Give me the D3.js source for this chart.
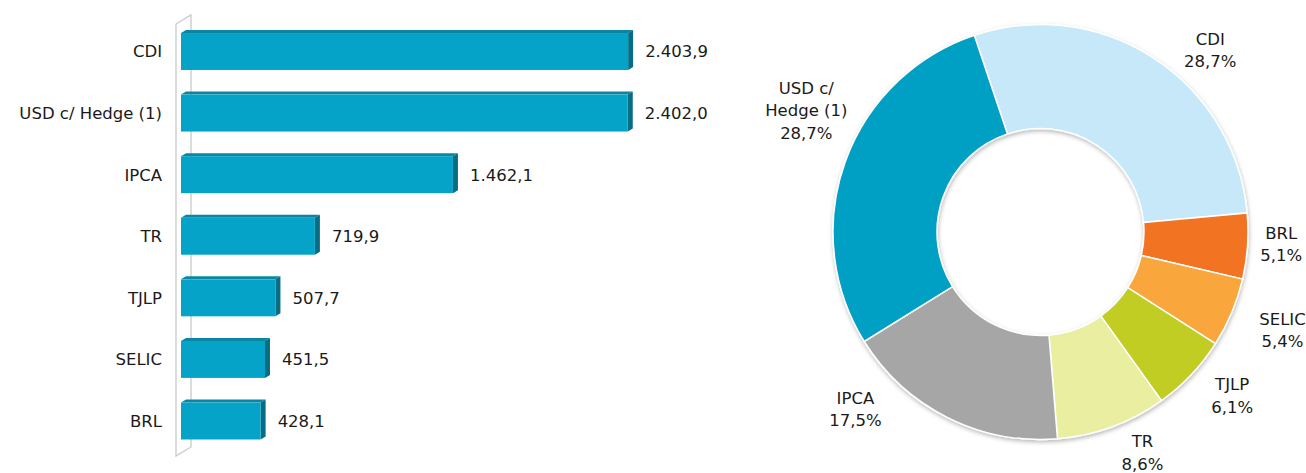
<!DOCTYPE html>
<html>
<head>
<meta charset="utf-8">
<script src="https://cdn.jsdelivr.net/npm/d3@7"></script>
<style>
	html, body { margin: 0; padding: 0; background: #fff; }
	text { font-family: "DejaVu Sans", sans-serif; font-size: 16.5px; fill: #1a1a1a; }
</style>
</head>
<body>
<div id="chart"></div>
<script>
'use strict';

// data
var categories = ['CDI', 'USD c/ Hedge (1)', 'IPCA', 'TR', 'TJLP', 'SELIC', 'BRL'];
var values = [2403.9, 2402.0, 1462.1, 719.9, 507.7, 451.5, 428.1];

// donut order (clockwise from the top) and its labels
var pieOrder = ['CDI', 'BRL', 'SELIC', 'TJLP', 'TR', 'IPCA', 'USD c/ Hedge (1)'];
var pieLabels = {
	'CDI': ['CDI'],
	'BRL': ['BRL'],
	'SELIC': ['SELIC'],
	'TJLP': ['TJLP'],
	'TR': ['TR'],
	'IPCA': ['IPCA'],
	'USD c/ Hedge (1)': ['USD c/', 'Hedge (1)']
};
var pieColors = {
	'CDI': '#c6e8f8',
	'BRL': '#f27321',
	'SELIC': '#f9a63e',
	'TJLP': '#c1cd24',
	'TR': '#e9eea1',
	'IPCA': '#a6a6a6',
	'USD c/ Hedge (1)': '#04a0c4'
};

var W = 1306, H = 473;

var fmtNum = function (v)	{
	var s = d3.format(',.1f')(v);
	return s.replace(/,/g, '#').replace('.', ',').replace(/#/g, '.');
};

var svg = d3.select('#chart').append('svg')
	.attr('width', W)
	.attr('height', H);

/* ---------- bar chart ---------- */

var y = d3.scaleBand()
	.domain(categories)
	.range([20.7, 451.8])
	.paddingInner(0.4)
	.paddingOuter(0.2);

var x = d3.scaleLinear()
	.domain([0, 2500])
	.range([181, 646]);

// 3d wall behind the bars
var wall = svg.append('g').attr('class', 'wall');
var wx0 = 176, wx1 = 191, wTop = 24, wBot = 456, wd = 9;
wall.append('path')
	.attr('d', 'M' + wx0 + ',' + wBot + 'L' + wx0 + ',' + wTop + 'L' + wx1 + ',' + (wTop - wd) +
		'L' + wx1 + ',' + (wBot - wd) + 'Z')
	.attr('fill', '#fff')
	.attr('stroke', '#c9c9c9')
	.attr('stroke-width', 1.3);

var dx = 5, dy = 3;
var bars = svg.append('g').attr('class', 'bars')
	.selectAll('g')
	.data(categories.map(function (c, i) { return { cat: c, value: values[i] }; }))
	.join('g');

bars.append('path')	// top face
	.attr('d', function (d)	{
		var x0 = x(0), x1 = x(d.value), t = y(d.cat);
		return 'M' + x0 + ',' + t + 'L' + (x0 + dx) + ',' + (t - dy) +
			'L' + (x1 + dx) + ',' + (t - dy) + 'L' + x1 + ',' + t + 'Z';
	})
	.attr('fill', '#0a86a3');

bars.append('path')	// side face
	.attr('d', function (d)	{
		var x1 = x(d.value), t = y(d.cat), b = t + y.bandwidth();
		return 'M' + x1 + ',' + t + 'L' + (x1 + dx) + ',' + (t - dy) +
			'L' + (x1 + dx) + ',' + (b - dy) + 'L' + x1 + ',' + b + 'Z';
	})
	.attr('fill', '#066d85');

bars.append('rect')	// front face
	.attr('x', x(0))
	.attr('y', function (d) { return y(d.cat); })
	.attr('width', function (d) { return x(d.value) - x(0); })
	.attr('height', y.bandwidth())
	.attr('fill', '#05a3c8');

bars.append('text')
	.attr('x', function (d) { return x(d.value) + 17; })
	.attr('y', function (d) { return y(d.cat) + y.bandwidth() / 2 + 6; })
	.text(function (d) { return fmtNum(d.value); });

svg.append('g').attr('class', 'cats')
	.selectAll('text')
	.data(categories)
	.join('text')
	.attr('x', 162)
	.attr('y', function (d) { return y(d) + y.bandwidth() / 2 + 6; })
	.attr('text-anchor', 'end')
	.text(function (d) { return d; });

/* ---------- donut ---------- */

var cx = 1040.5, cy = 232, rOut = 207.5, rIn = 103.5;
var startDeg = -18.6;

// where Excel put each label: [angle in degrees, radius]
var labelPlace = {
	'CDI': [43.0, 249],
	'BRL': [92.9, 241],
	'SELIC': [112.0, 261],
	'TJLP': [130.5, 252],
	'TR': [155.2, 243],
	'IPCA': [226.3, 256],
	'USD c/ Hedge (1)': [297.5, 264]
};

var total = d3.sum(values);
var pieData = pieOrder.map(function (c)	{
	return { cat: c, value: values[categories.indexOf(c)] };
});

var pie = d3.pie()
	.sort(null)
	.value(function (d) { return d.value; })
	.startAngle(startDeg * Math.PI / 180)
	.endAngle((startDeg + 360) * Math.PI / 180);

var arc = d3.arc().innerRadius(rIn).outerRadius(rOut);

var defs = svg.append('defs');
var f = defs.append('filter')
	.attr('id', 'ringShadow')
	.attr('x', '-10%').attr('y', '-10%')
	.attr('width', '120%').attr('height', '120%');
f.append('feDropShadow')
	.attr('dx', 0.5)
	.attr('dy', 2)
	.attr('stdDeviation', 2)
	.attr('flood-color', '#000')
	.attr('flood-opacity', 0.28);

var donut = svg.append('g')
	.attr('transform', 'translate(' + cx + ',' + cy + ')');

donut.append('g')
	.attr('filter', 'url(#ringShadow)')
	.selectAll('path')
	.data(pie(pieData))
	.join('path')
	.attr('d', arc)
	.attr('fill', function (d) { return pieColors[d.data.cat]; })
	.attr('stroke', '#fff')
	.attr('stroke-width', 1.5);

var lineH = 22.5;
var labels = donut.append('g')
	.selectAll('text')
	.data(pie(pieData))
	.join('text')
	.attr('text-anchor', 'middle')
	.attr('transform', function (d)	{
		var p = labelPlace[d.data.cat],
				a = p[0] * Math.PI / 180;
		return 'translate(' + (p[1] * Math.sin(a)) + ',' + (-p[1] * Math.cos(a)) + ')';
	});

labels.each(function (d)	{
	var lines = pieLabels[d.data.cat].concat([
		d3.format('.1f')(d.data.value / total * 100).replace('.', ',') + '%'
	]);
	var t = d3.select(this),
			off = -(lines.length - 1) * lineH / 2 + 6;
	lines.forEach(function (l, i)	{
		t.append('tspan')
			.attr('x', 0)
			.attr('y', off + i * lineH)
			.text(l);
	});
});
</script>
</body>
</html>
